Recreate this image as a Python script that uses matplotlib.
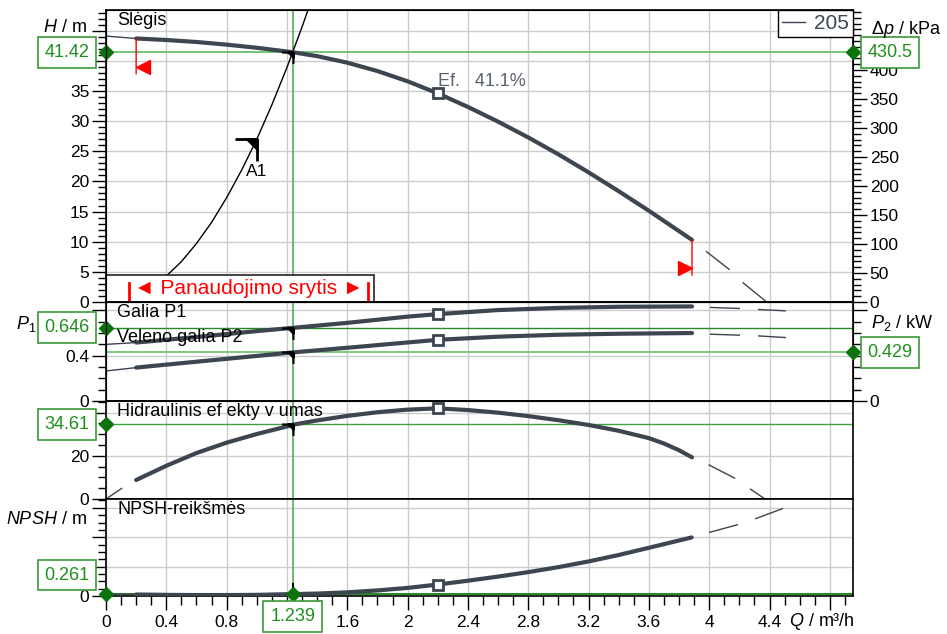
import matplotlib.pyplot as plt
import numpy as np
from matplotlib.path import Path
from matplotlib.lines import Line2D
from matplotlib.patches import Rectangle
from matplotlib.transforms import blended_transform_factory, offset_copy

plt.rcParams['font.family'] = ['Liberation Sans', 'DejaVu Sans']
plt.rcParams['mathtext.fontset'] = 'custom'
plt.rcParams['mathtext.rm'] = 'Liberation Sans'
plt.rcParams['mathtext.it'] = 'Liberation Sans:italic'

# --- values ---
# head curve H / m
q_h = [0.2, 0.4, 0.6, 0.8, 1.0, 1.239, 1.4, 1.6, 1.8, 2.0, 2.2, 2.4, 2.6, 2.8, 3.0, 3.2, 3.4, 3.6, 3.886]
h = [43.7, 43.45, 43.12, 42.68, 42.16, 41.42, 40.77, 39.69, 38.3, 36.6, 34.6, 32.35, 29.91, 27.29, 24.49, 21.5, 18.37, 15.13, 10.3]
q_h_thin = [0.0, 0.2]
h_thin = [44.1, 43.7]
q_h_dash = [3.886, 3.983, 4.138, 4.224, 4.381]
h_dash = [10.3, 8.34, 5.3, 3.2, 0.0]

# system curve A1
q_sys = [0.0, 0.1, 0.2, 0.3, 0.4, 0.5, 0.6, 0.7, 0.8, 0.9, 1.0, 1.1, 1.2, 1.3, 1.36]
h_sys = [0.0, 0.27, 1.1, 2.4, 4.3, 6.7, 9.7, 13.2, 17.3, 21.9, 27.0, 32.7, 38.9, 45.6, 49.9]
q_a1, h_a1 = 1.0, 27.0

# power P1 / P2 kW
q_p = [0.2, 0.6, 1.0, 1.239, 1.6, 2.0, 2.2, 2.6, 3.0, 3.4, 3.886]
p1 = [0.516, 0.565, 0.617, 0.646, 0.69, 0.745, 0.767, 0.803, 0.822, 0.832, 0.835]
p2 = [0.295, 0.347, 0.398, 0.429, 0.47, 0.517, 0.54, 0.568, 0.585, 0.594, 0.60]
q_p_thin = [0.0, 0.2]
p1_thin = [0.50, 0.516]
p2_thin = [0.265, 0.295]
q_p_dash = [3.886, 4.005, 4.204, 4.324, 4.509]
p1_dash = [0.835, 0.826, 0.817, 0.808, 0.796]
p2_dash = [0.600, 0.590, 0.581, 0.575, 0.560]

# hydraulic efficiency %
q_eta = [0.2, 0.4, 0.6, 0.8, 1.0, 1.2, 1.239, 1.4, 1.6, 1.8, 2.0, 2.2, 2.4, 2.6, 2.8, 3.0, 3.2, 3.4, 3.6, 3.7, 3.8, 3.886]
eta = [8.8, 15.4, 21.3, 26.1, 30.1, 33.6, 34.4, 36.4, 38.5, 40.2, 41.4, 42.0, 41.2, 40.0, 38.4, 36.5, 34.3, 31.6, 28.2, 25.7, 22.6, 19.3]
q_eta_thin = [0.0, 0.104]
eta_thin = [0.0, 4.9]
q_eta_dash = [3.886, 3.99, 4.17, 4.26, 4.37]
eta_dash = [19.3, 16.1, 9.6, 5.2, 0.0]

# NPSH / m
q_n = [0.2, 0.4, 0.6, 0.8, 1.0, 1.239, 1.4, 1.6, 1.8, 2.0, 2.2, 2.4, 2.6, 2.8, 3.0, 3.2, 3.4, 3.6, 3.884]
npsh = [0.2, 0.15, 0.12, 0.12, 0.15, 0.261, 0.33, 0.5, 0.76, 1.1, 1.56, 2.08, 2.64, 3.25, 3.93, 4.7, 5.58, 6.56, 7.97]
q_n_thin = [0.0, 0.2]
npsh_thin = [0.3, 0.2]
q_n_dash = [3.884, 4.0, 4.18, 4.3, 4.49]
npsh_dash = [7.97, 8.65, 9.65, 10.46, 11.92]

# best efficiency point (squares)
q_bep = 2.2
h_bep, p1_bep, p2_bep, eta_bep, npsh_bep = 34.6, 0.767, 0.54, 42.0, 1.56

# duty point
q_duty = 1.239
h_duty, dp_duty = 41.42, 430.5
p1_duty, p2_duty = 0.646, 0.429
eta_duty, npsh_duty = 34.61, 0.261
q_min, q_max = 0.2, 3.886

KPA_PER_M = dp_duty / h_duty

x_ticks = [0, 0.4, 0.8, 1.2, 1.6, 2.0, 2.4, 2.8, 3.2, 3.6, 4.0, 4.4, 4.8]
x_labels = ['0', '0.4', '0.8', '', '1.6', '2', '2.4', '2.8', '3.2', '3.6', '4', '4.4', '']

CURVE = '#3c4550'
GRID = '#cccccc'
G_TXT = '#1f8f1f'
G_BOX = '#3a9a3a'
G_DIA = '#0b730b'

W, H_PX = 947, 634
fig = plt.figure(figsize=(W / 100, H_PX / 100), dpi=100)


def fx(p):
    return p / W


def fy(p):
    return 1 - p / H_PX


L, R = 106, 853
XMAX = (R - L) / 150.8


def panel(top, bot):
    return fig.add_axes([fx(L), fy(bot), (R - L) / W, (bot - top) / H_PX])


ax1 = panel(10, 302)
ax2 = panel(302, 401)
ax3 = panel(401, 499)
ax4 = panel(499, 596)

ax1.set_ylim(0, 292 / 6.03)
ax2.set_ylim(0, 99 / 113.25)
ax3.set_ylim(0, 45.4)
ax4.set_ylim(0, 97 / 7.35)

for ax in (ax1, ax2, ax3, ax4):
    ax.set_xlim(0, XMAX)
    ax.set_xticks(x_ticks)
    ax.set_xticks(np.arange(0, 4.95, 0.1), minor=True)
    ax.grid(True, which='major', color=GRID, lw=1)
    ax.set_axisbelow(True)
    for s in ax.spines.values():
        s.set_linewidth(1.2)
    ax.tick_params(which='major', direction='out', length=10, width=1, labelsize=12.5, pad=2)
    ax.tick_params(which='minor', direction='out', length=5.5, width=1)
    ax.axvline(q_duty, color='#5aa85a', lw=1.2, zorder=2)

for ax in (ax1, ax2, ax3):
    ax.tick_params(axis='x', which='both', length=0, labelbottom=False)
ax4.set_xticklabels(x_labels)
ax4.tick_params(axis='x', which='major', length=10, pad=4)
ax4.tick_params(axis='x', which='minor', length=6.5)

ax1.set_yticks(np.arange(0, 50, 5), [str(v) for v in range(0, 40, 5)] + ['', ''])
ax1.set_yticks(np.arange(0, 49, 1), minor=True)
ax2.set_yticks([0, 0.4, 0.8], ['0', '0.4', ''])
ax2.set_yticks(np.arange(0, 0.88, 0.1), minor=True)
ax3.set_yticks([0, 20, 40], ['0', '20', ''])
ax3.set_yticks(np.arange(0, 46, 5), minor=True)
ax4.set_yticks([0, 4, 8, 12], ['0', '', '', ''])
ax4.set_yticks(np.arange(0, 13.2, 1), minor=True)

ax1r = ax1.twinx()
ax1r.set_ylim(0, 292 / 6.03 * KPA_PER_M)
ax1r.set_yticks(np.arange(0, 450, 50))
ax1r.set_yticks(np.arange(0, 501, 10), minor=True)
ax2r = ax2.twinx()
ax2r.set_ylim(ax2.get_ylim())
ax2r.set_yticks([0, 0.4, 0.8], ['0', '', ''])
ax2r.set_yticks(np.arange(0, 0.88, 0.1), minor=True)
for ax in (ax1r, ax2r):
    ax.tick_params(which='major', direction='out', length=10, width=1, labelsize=12.5, pad=2)
    ax.tick_params(which='minor', direction='out', length=5.5, width=1)


def curve(ax, qt, yt, q, y, qd, yd):
    ax.plot(qt, yt, color=CURVE, lw=1, zorder=3)
    ax.plot(q, y, color=CURVE, lw=3, solid_capstyle='round', solid_joinstyle='round', zorder=4)
    ax.plot(qd, yd, color=CURVE, lw=1, linestyle=(21.6, (21.6, 13)), zorder=3)


curve(ax1, q_h_thin, h_thin, q_h, h, q_h_dash, h_dash)
curve(ax2, q_p_thin, p1_thin, q_p, p1, q_p_dash, p1_dash)
curve(ax2, q_p_thin, p2_thin, q_p, p2, q_p_dash, p2_dash)
curve(ax3, q_eta_thin, eta_thin, q_eta, eta, q_eta_dash, eta_dash)
curve(ax4, q_n_thin, npsh_thin, q_n, npsh, q_n_dash, npsh_dash)

ax1.plot(q_sys, h_sys, color='black', lw=1, zorder=3)

# BEP squares
sq = dict(marker='s', ms=7, mfc='white', mec=CURVE, mew=2, zorder=6, ls='none')
ax1.plot(q_bep, h_bep, **sq)
ax2.plot([q_bep, q_bep], [p1_bep, p2_bep], **sq)
ax3.plot(q_bep, eta_bep, **sq)
ax4.plot(q_bep, npsh_bep, **sq)
ax1.annotate('Ef.   41.1%', (q_bep, h_bep), xytext=(0, 8.5), textcoords='offset points',
             ha='left', va='center', fontsize=13, color='#5a6270', zorder=7)

# duty point markers
duty_path = Path([(-1, 0), (0, 0), (0, 0), (0, -1), (0, 0), (-0.45, 0), (0, -0.45), (0, 0)],
                 [Path.MOVETO, Path.LINETO, Path.MOVETO, Path.LINETO,
                  Path.MOVETO, Path.LINETO, Path.LINETO, Path.CLOSEPOLY])
dm = dict(marker=duty_path, color='black', mew=1.5, ls='none', zorder=7)
ax1.plot(q_duty, h_duty, ms=16.5, **dm)
ax2.plot([q_duty, q_duty], [p1_duty, p2_duty], ms=16.5, **dm)
ax3.plot(q_duty, eta_duty, ms=16.5, **dm)
ax4.plot(q_duty, npsh_duty, marker=Path([(0, 0), (0, 1)], [Path.MOVETO, Path.LINETO]),
         ms=16, color='black', mew=1.5, ls='none', zorder=7, clip_on=False)
ax1.plot(q_a1, h_a1, ms=31.7, marker=duty_path, color='black', mew=2, ls='none', zorder=7)
ax1.annotate('A1', (q_a1, h_a1), xytext=(0, -23), textcoords='offset points',
             ha='center', va='center', fontsize=12.5, zorder=7)

# operating range limits
for qq, hh, mk, dx in ((q_min, h_thin[1], '<', 7.3), (q_max, h[-1], '>', -7.2)):
    ax1.annotate('', xy=(qq, hh), xytext=(0, -25.5), textcoords='offset points',
                 arrowprops=dict(arrowstyle='-', color='red', lw=1, shrinkA=0, shrinkB=0), zorder=6)
    ax1.plot(qq, hh, marker=mk, ms=10, color='red', ls='none', zorder=6,
             transform=offset_copy(ax1.transData, fig=fig, x=dx, y=-28.4, units='dots'))

ax1.add_patch(Rectangle((0, 0), (374 - L) / (R - L), 27 / 292, transform=ax1.transAxes,
                        fc='white', ec='#222222', lw=1.2, zorder=8, clip_on=False))
ax1.text((248.7 - L) / (R - L), 13.5 / 292, '◄ Panaudojimo srytis ►', transform=ax1.transAxes,
         ha='center', va='center', color='red', fontsize=15, zorder=9,
         family=['Liberation Sans', 'DejaVu Sans'])
for bx in (129.3, 368.3):
    ax1.plot([(bx - L) / (R - L)] * 2, [0, 19.3 / 292], transform=ax1.transAxes,
             color='red', lw=2, zorder=9)

# green duty lines, diamonds and value boxes
ax1.axhline(h_duty, color='#6cbf6c', lw=1.3, zorder=2)
ax2.axhline(p1_duty, color='#2a8a2a', lw=1, zorder=2)
ax2.axhline(p2_duty, color='#78c278', lw=1.3, zorder=2)
ax3.axhline(eta_duty, color='#44a044', lw=1, zorder=2)
ax4.axhline(npsh_duty, color='#2a8a2a', lw=1.5, zorder=2)

dia = dict(marker='D', ms=7.5, color=G_DIA, ls='none', zorder=15, clip_on=False)
ax1.plot(0, h_duty, **dia)
ax1r.plot(XMAX, dp_duty, **dia)
ax2.plot(0, p1_duty, **dia)
ax2r.plot(XMAX, p2_duty, **dia)
ax3.plot(0, eta_duty, **dia)
ax4.plot([0, q_duty], [npsh_duty, npsh_duty], **dia)

box = dict(boxstyle='square,pad=0.38', fc='white', ec=G_BOX, lw=1.2)
XL = (67 - L) / (R - L)
XR = (890 - L) / (R - L)


def value_box(ax, x, y, s, trans):
    ax.text(x, y, s, transform=trans, ha='center', va='center', fontsize=13,
            color=G_TXT, bbox=box, zorder=20, clip_on=False)


value_box(ax1, XL, h_duty, '41.42', blended_transform_factory(ax1.transAxes, ax1.transData))
value_box(ax1r, XR, dp_duty, '430.5', blended_transform_factory(ax1r.transAxes, ax1r.transData))
value_box(ax2, XL, p1_duty, '0.646', blended_transform_factory(ax2.transAxes, ax2.transData))
value_box(ax2r, XR, p2_duty, '0.429', blended_transform_factory(ax2r.transAxes, ax2r.transData))
value_box(ax3, XL, eta_duty, '34.61', blended_transform_factory(ax3.transAxes, ax3.transData))
value_box(ax4, XL, 21 / 97, '0.261', ax4.transAxes)
value_box(ax4, q_duty, -20.5 / 97, '1.239', blended_transform_factory(ax4.transData, ax4.transAxes))

# panel titles
ax1.text(0.015, 0.963, 'Slėgis', transform=ax1.transAxes, fontsize=13, va='center', zorder=10)
ax2.text(0.015, 0.889, 'Galia P1', transform=ax2.transAxes, fontsize=13, va='center', zorder=10)
ax2.text(0.015, 0.646, 'Veleno galia P2', transform=ax2.transAxes, fontsize=13, va='center', zorder=10)
ax3.text(0.015, 0.891, 'Hidraulinis ef ekty v umas', transform=ax3.transAxes, fontsize=13,
         va='center', zorder=10)
ax4.text(0.015, 0.887, 'NPSH-reikšmės', transform=ax4.transAxes, fontsize=13, va='center', zorder=10)

# legend
ax1r.legend([Line2D([], [], color=CURVE, lw=1)], ['205'], loc='upper right', borderaxespad=0,
            fancybox=False, edgecolor='black', framealpha=1, fontsize=15, labelcolor=CURVE,
            handlelength=1.1, handletextpad=0.45, borderpad=0.2)

# axis labels
fig.text(fx(87), fy(28), '$H$ / m', ha='right', va='center', fontsize=13)
fig.text(fx(871), fy(29), 'Δ$p$ / kPa', ha='left', va='center', fontsize=13)
fig.text(fx(16), fy(324), '$P_1$', ha='left', va='center', fontsize=13)
fig.text(fx(871), fy(323), '$P_2$ / kW', ha='left', va='center', fontsize=13)
fig.text(fx(87), fy(519), '$NPSH$ / m', ha='right', va='center', fontsize=13)
fig.text(fx(855), fy(622), '$Q$ / m³/h', ha='right', va='center', fontsize=13)

fig.savefig('out.png', dpi=100)
